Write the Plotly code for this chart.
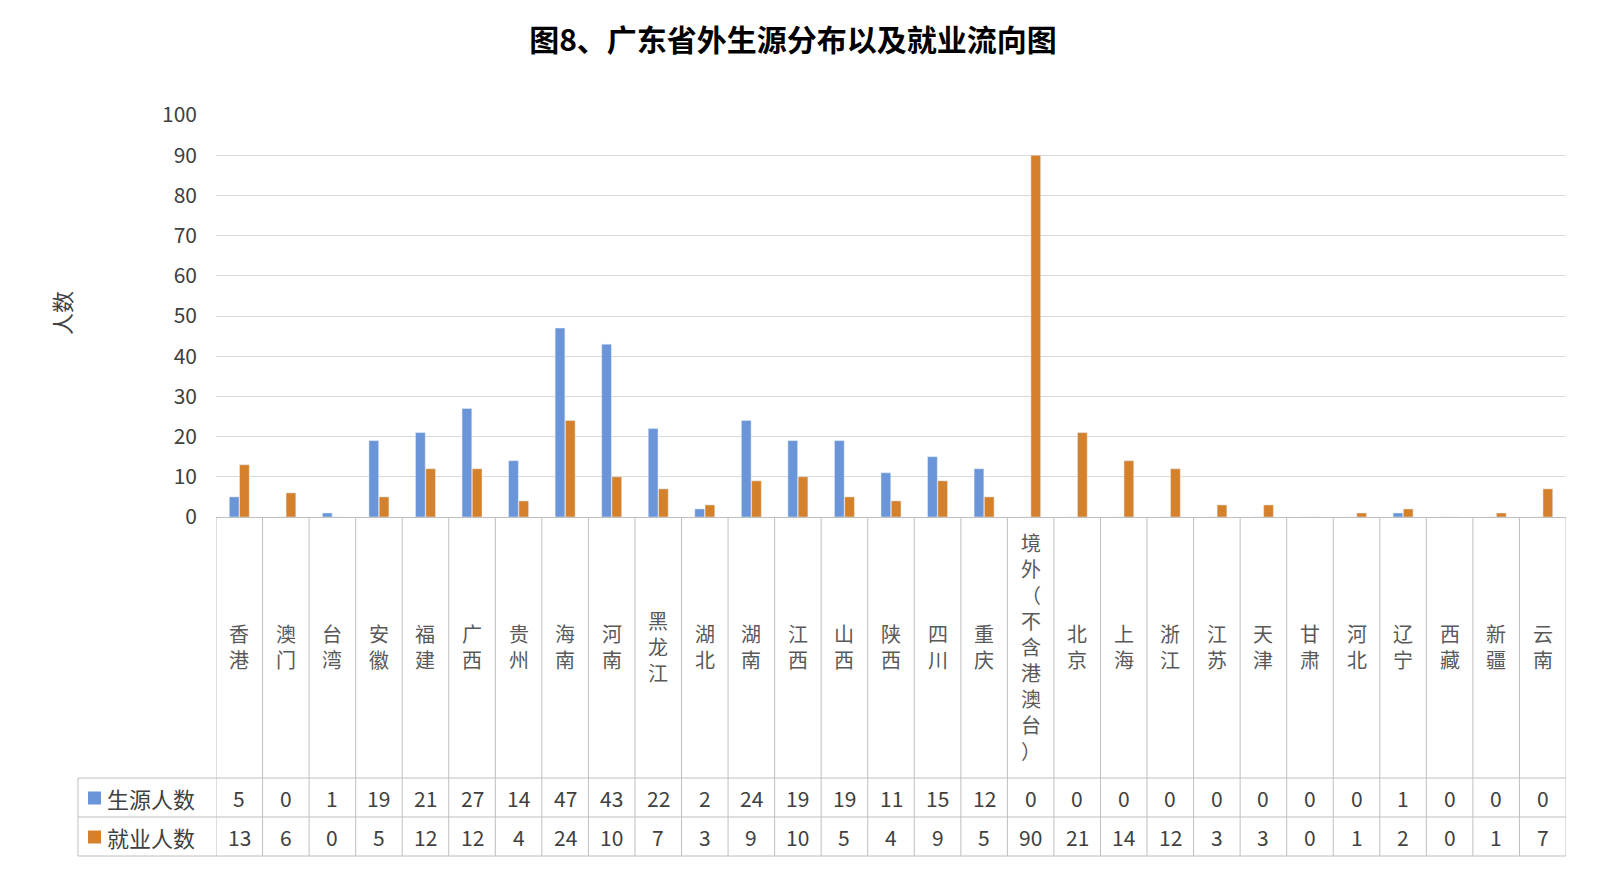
import plotly.graph_objects as go

categories = ["香港","澳门","台湾","安徽","福建","广西","贵州","海南","河南","黑龙江","湖北","湖南","江西","山西","陕西","四川","重庆","境外（不含港澳台）","北京","上海","浙江","江苏","天津","甘肃","河北","辽宁","西藏","新疆","云南"]
source = [5,0,1,19,21,27,14,47,43,22,2,24,19,19,11,15,12,0,0,0,0,0,0,0,0,1,0,0,0]
employ = [13,6,0,5,12,12,4,24,10,7,3,9,10,5,4,9,5,90,21,14,12,3,3,0,1,2,0,1,7]
series_names = ["生源人数", "就业人数"]
colors = ["#6A95D8", "#D5812C"]
yticks = [0,10,20,30,40,50,60,70,80,90,100]

W, H = 1611, 878
L, R, T, B = 208, 1558, 107, 509
n = len(categories)
FONT = "Noto Sans CJK SC"

def py(p):
    return (B - p) / (B - T)
def px(p):
    return (p - L) / (R - L)

fig = go.Figure()
x = list(range(n))
for name, vals, c in zip(series_names, [source, employ], colors):
    fig.add_bar(x=x, y=vals, name=name, marker_color=c)

shapes, ann = [], []
line = dict(color="#BFBFBF", width=1)
for yy in [770, 809, 848]:
    shapes.append(dict(type="line", xref="paper", yref="paper", x0=px(70), x1=px(R), y0=py(yy), y1=py(yy), line=line))
for i in range(n + 1):
    shapes.append(dict(type="line", xref="x", yref="paper", x0=i - 0.5, x1=i - 0.5, y0=py(B), y1=py(848), line=line))
shapes.append(dict(type="line", xref="paper", yref="paper", x0=px(70), x1=px(70), y0=py(770), y1=py(848), line=line))

for i, cat in enumerate(categories):
    ann.append(dict(x=i, y=py(638), xref="x", yref="paper", text="<br>".join(cat), showarrow=False,
                    font=dict(size=20, color="#595959", family=FONT), yanchor="middle"))
    for k, vals in enumerate([source, employ]):
        ann.append(dict(x=i, y=py(790 + 39 * k), xref="x", yref="paper", text=str(vals[i]),
                        showarrow=False, font=dict(size=21, color="#404040", family=FONT), yanchor="middle"))
for k, (name, c) in enumerate(zip(series_names, colors)):
    yy = 790 + 39 * k
    shapes.append(dict(type="rect", xref="paper", yref="paper", x0=px(80), x1=px(93), y0=py(yy - 6.5), y1=py(yy + 6.5), fillcolor=c, line=dict(width=0)))
    ann.append(dict(x=px(97), y=py(yy), xref="paper", yref="paper", text=name, showarrow=False, xanchor="left",
                    font=dict(size=22, color="#404040", family=FONT), yanchor="middle"))

ann.append(dict(x=px(35), y=py(305), xref="paper", yref="paper", text="人数", textangle=-90, showarrow=False,
                font=dict(size=22, color="#404040", family=FONT)))

fig.update_layout(
    width=W, height=H, margin=dict(l=L, r=W - R, t=T, b=H - B, pad=0),
    plot_bgcolor="white", paper_bgcolor="white", showlegend=False,
    title=dict(text="<b>图8、广东省外生源分布以及就业流向图</b>", x=785 / W, xanchor="center",
               y=1 - 32 / H, yanchor="middle", yref="container",
               font=dict(size=30, color="#000000", family=FONT)),
    barmode="group", bargap=0.56, bargroupgap=0.05,
    xaxis=dict(range=[-0.5, n - 0.5], showticklabels=False, showgrid=False, zeroline=False,
               showline=True, linecolor="#BFBFBF", ticks=""),
    yaxis=dict(range=[0, 100], tickvals=yticks, showgrid=True, gridcolor="#D9D9D9", zeroline=False,
               tickfont=dict(size=21, color="#404040", family=FONT), ticklabelstandoff=18),
    shapes=shapes, annotations=ann, font=dict(family=FONT),
)
fig.write_html("out.html")
